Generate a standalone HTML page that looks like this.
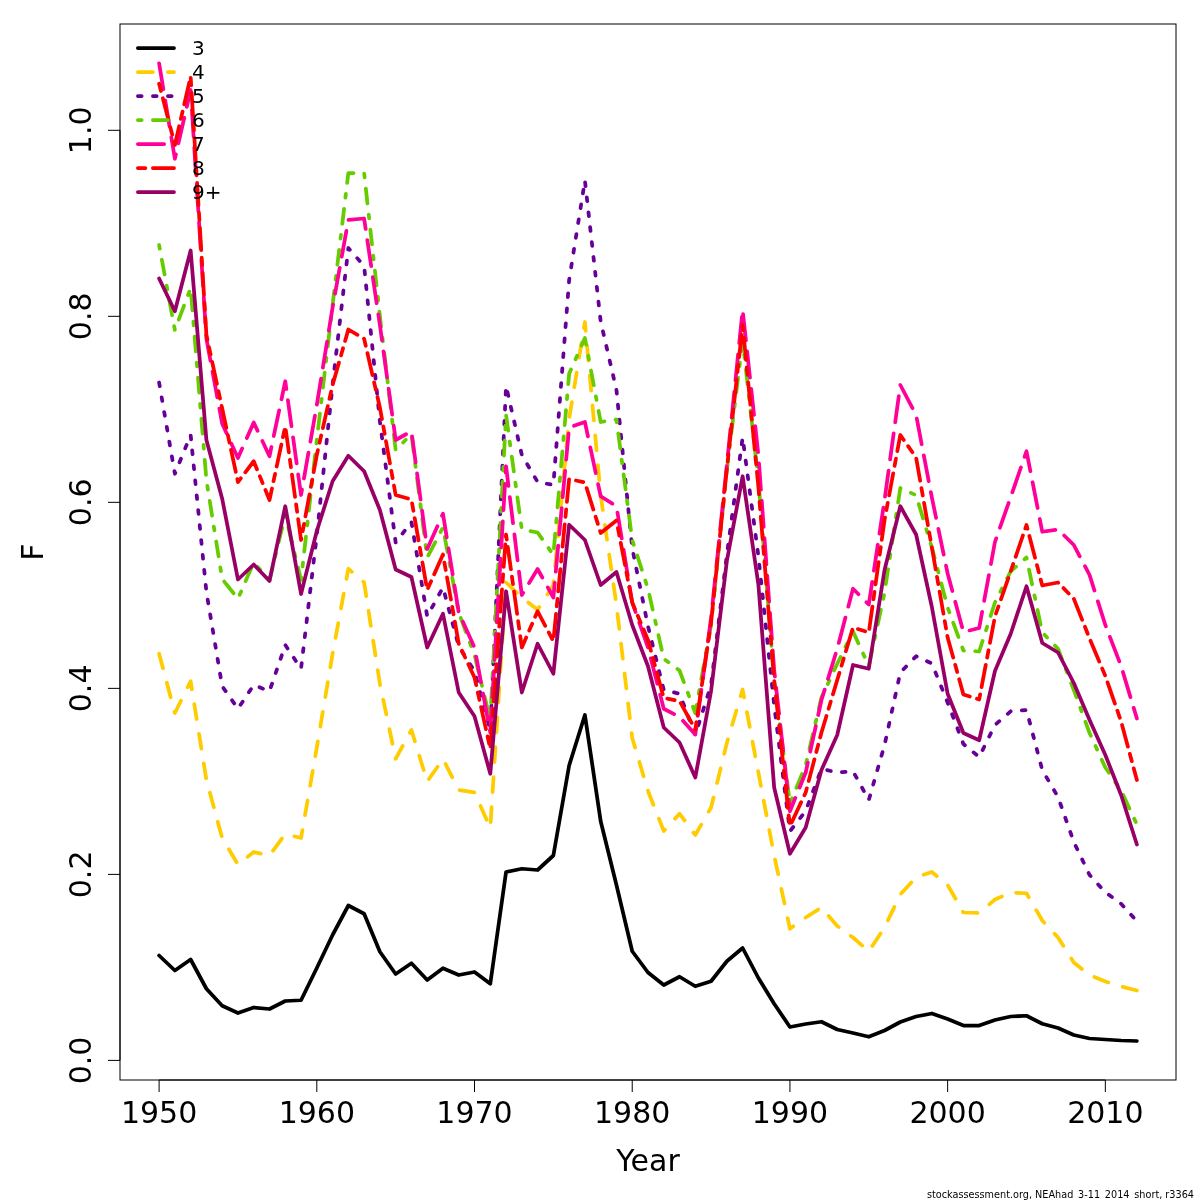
<!DOCTYPE html>
<html><head><meta charset="utf-8"><title>F by age</title>
<style>
html,body{margin:0;padding:0;background:#fff;}
svg{display:block;font-family:"DejaVu Sans","Liberation Sans",sans-serif;}
.ln{fill:none;stroke-width:3.75;stroke-linecap:round;stroke-linejoin:round;}
.ax{fill:none;stroke:#000;stroke-width:1;stroke-linecap:butt;}
</style></head><body>
<svg width="1200" height="1200" viewBox="0 0 1200 1200">
<rect width="1200" height="1200" fill="#fff"/>

<polyline class="ln" stroke="#000000" points="159.10,955.50 174.87,970.50 190.64,959.50 206.41,988.75 222.18,1005.75 237.95,1013.00 253.72,1007.50 269.49,1009.00 285.27,1001.00 301.04,1000.25 316.81,968.00 332.58,935.00 348.35,905.50 364.12,913.75 379.89,951.75 395.66,974.00 411.43,963.25 427.20,980.00 442.97,968.25 458.74,975.00 474.51,972.00 490.28,983.75 506.06,872.00 521.83,868.75 537.60,870.00 553.37,855.50 569.14,765.50 584.91,715.00 600.68,821.25 616.45,885.00 632.22,951.25 647.99,972.50 663.76,985.00 679.53,976.75 695.30,986.25 711.07,981.25 726.85,961.25 742.62,948.00 758.39,978.00 774.16,1003.75 789.93,1027.00 805.70,1024.00 821.47,1021.75 837.24,1029.50 853.01,1033.00 868.78,1036.75 884.55,1030.50 900.32,1022.00 916.09,1016.50 931.86,1013.50 947.63,1019.00 963.41,1025.50 979.18,1025.50 994.95,1020.00 1010.72,1016.50 1026.49,1015.75 1042.26,1023.75 1058.03,1028.00 1073.80,1035.00 1089.57,1038.50 1105.34,1039.50 1121.11,1040.50 1136.88,1041.00"/>
<polyline class="ln" stroke="#FFCC00" stroke-dasharray="15 15" points="159.10,653.75 174.87,713.00 190.64,681.25 206.41,780.00 222.18,838.00 237.95,864.50 253.72,852.00 269.49,855.50 285.27,834.00 301.04,838.00 316.81,747.50 332.58,653.75 348.35,568.75 364.12,582.50 379.89,683.75 395.66,758.75 411.43,730.00 427.20,781.50 442.97,759.00 458.74,790.00 474.51,792.50 490.28,828.00 506.06,582.50 521.83,597.50 537.60,609.75 553.37,585.00 569.14,418.75 584.91,322.00 600.68,495.50 616.45,605.00 632.22,738.00 647.99,791.00 663.76,831.00 679.53,813.75 695.30,835.00 711.07,807.50 726.85,743.00 742.62,689.50 758.39,772.50 774.16,855.50 789.93,928.75 805.70,917.50 821.47,907.50 837.24,926.00 853.01,937.50 868.78,951.25 884.55,927.50 900.32,894.50 916.09,877.25 931.86,872.00 947.63,885.00 963.41,912.50 979.18,913.00 994.95,899.50 1010.72,892.50 1026.49,893.25 1042.26,920.50 1058.03,937.50 1073.80,962.50 1089.57,975.00 1105.34,981.50 1121.11,986.50 1136.88,990.50"/>
<polyline class="ln" stroke="#660099" stroke-dasharray="3.75 11.25" points="159.10,382.50 174.87,473.75 190.64,435.00 206.41,592.00 222.18,686.25 237.95,708.75 253.72,685.00 269.49,691.25 285.27,645.00 301.04,668.75 316.81,535.00 332.58,385.00 348.35,248.00 364.12,266.00 379.89,421.25 395.66,542.50 411.43,522.00 427.20,616.25 442.97,587.50 458.74,646.25 474.51,671.25 490.28,730.00 506.06,386.00 521.83,455.00 537.60,482.00 553.37,485.00 569.14,280.00 584.91,180.50 600.68,321.50 616.45,390.00 632.22,548.00 647.99,626.25 663.76,690.00 679.53,693.75 695.30,735.00 711.07,685.00 726.85,555.00 742.62,437.50 758.39,556.00 774.16,705.00 789.93,831.25 805.70,811.00 821.47,768.75 837.24,772.50 853.01,771.25 868.78,800.00 884.55,745.00 900.32,672.50 916.09,656.25 931.86,663.50 947.63,702.50 963.41,744.00 979.18,757.00 994.95,725.00 1010.72,711.25 1026.49,710.00 1042.26,770.00 1058.03,797.00 1073.80,842.00 1089.57,875.00 1105.34,892.25 1121.11,903.75 1136.88,921.25"/>
<polyline class="ln" stroke="#66CC00" stroke-dasharray="3.75 11.25 15 11.25" points="159.10,245.00 174.87,330.00 190.64,288.00 206.41,480.00 222.18,579.00 237.95,598.75 253.72,562.50 269.49,580.00 285.27,515.00 301.04,580.00 316.81,440.00 332.58,305.00 348.35,173.00 364.12,173.00 379.89,316.00 395.66,450.00 411.43,434.00 427.20,557.50 442.97,527.50 458.74,612.50 474.51,655.00 490.28,720.00 506.06,415.00 521.83,529.50 537.60,532.50 553.37,555.00 569.14,373.75 584.91,338.00 600.68,422.00 616.45,419.50 632.22,540.00 647.99,588.75 663.76,658.75 679.53,670.50 695.30,713.00 711.07,625.00 726.85,470.00 742.62,340.00 758.39,480.00 774.16,680.00 789.93,803.75 805.70,765.00 821.47,697.50 837.24,663.75 853.01,631.50 868.78,666.00 884.55,592.50 900.32,488.00 916.09,495.25 931.86,547.50 947.63,607.50 963.41,650.50 979.18,651.50 994.95,602.50 1010.72,571.25 1026.49,557.50 1042.26,632.50 1058.03,648.75 1073.80,690.00 1089.57,733.00 1105.34,767.50 1121.11,790.50 1136.88,824.50"/>
<polyline class="ln" stroke="#FF0099" stroke-dasharray="26.25 11.25" points="159.10,63.30 174.87,158.75 190.64,90.00 206.41,338.75 222.18,423.75 237.95,458.00 253.72,422.50 269.49,456.25 285.27,381.25 301.04,495.00 316.81,405.00 332.58,307.50 348.35,220.00 364.12,218.50 379.89,325.00 395.66,440.00 411.43,431.25 427.20,549.00 442.97,513.75 458.74,612.50 474.51,647.50 490.28,732.50 506.06,466.25 521.83,595.00 537.60,569.00 553.37,597.50 569.14,427.50 584.91,422.00 600.68,496.25 616.45,506.25 632.22,602.50 647.99,647.50 663.76,708.75 679.53,717.00 695.30,734.60 711.07,618.00 726.85,465.00 742.62,310.00 758.39,455.00 774.16,670.00 789.93,811.25 805.70,772.50 821.47,700.00 837.24,648.75 853.01,588.75 868.78,604.50 884.55,500.00 900.32,385.00 916.09,415.00 931.86,497.50 947.63,573.50 963.41,632.00 979.18,628.00 994.95,542.00 1010.72,497.00 1026.49,451.25 1042.26,531.75 1058.03,529.50 1073.80,545.00 1089.57,575.00 1105.34,625.00 1121.11,666.00 1136.88,718.50"/>
<polyline class="ln" stroke="#FF0000" stroke-dasharray="7.5 7.5 22.5 7.5" points="159.10,83.75 174.87,145.00 190.64,76.50 206.41,335.00 222.18,408.50 237.95,482.00 253.72,461.25 269.49,500.00 285.27,426.25 301.04,540.00 316.81,455.00 332.58,385.00 348.35,329.50 364.12,338.75 379.89,407.50 395.66,495.00 411.43,499.50 427.20,590.00 442.97,554.50 458.74,643.75 474.51,677.50 490.28,748.75 506.06,534.50 521.83,647.50 537.60,611.25 553.37,641.25 569.14,479.00 584.91,482.50 600.68,533.00 616.45,520.50 632.22,602.50 647.99,640.00 663.76,698.00 679.53,701.00 695.30,729.50 711.07,622.50 726.85,469.00 742.62,325.00 758.39,487.00 774.16,680.00 789.93,826.25 805.70,792.50 821.47,732.50 837.24,680.00 853.01,627.50 868.78,632.50 884.55,520.00 900.32,435.00 916.09,457.50 931.86,547.50 947.63,637.50 963.41,694.50 979.18,699.50 994.95,616.50 1010.72,571.25 1026.49,525.00 1042.26,585.50 1058.03,582.50 1073.80,598.75 1089.57,638.50 1105.34,676.00 1121.11,721.50 1136.88,780.00"/>
<polyline class="ln" stroke="#990066" points="159.10,278.50 174.87,311.25 190.64,250.50 206.41,440.00 222.18,498.75 237.95,579.50 253.72,564.50 269.49,581.00 285.27,506.25 301.04,594.00 316.81,531.00 332.58,481.25 348.35,455.75 364.12,471.25 379.89,510.00 395.66,569.50 411.43,577.00 427.20,647.50 442.97,613.75 458.74,692.50 474.51,716.25 490.28,773.75 506.06,591.25 521.83,692.50 537.60,643.75 553.37,673.75 569.14,524.75 584.91,540.00 600.68,585.00 616.45,572.00 632.22,625.00 647.99,666.25 663.76,727.50 679.53,742.50 695.30,777.50 711.07,691.00 726.85,561.00 742.62,476.25 758.39,584.50 774.16,787.50 789.93,853.75 805.70,827.50 821.47,770.00 837.24,735.00 853.01,665.00 868.78,668.75 884.55,570.00 900.32,506.25 916.09,534.50 931.86,607.00 947.63,693.75 963.41,733.00 979.18,740.25 994.95,671.00 1010.72,633.75 1026.49,586.25 1042.26,643.00 1058.03,652.50 1073.80,683.00 1089.57,720.00 1105.34,755.00 1121.11,795.00 1136.88,844.50"/>
<rect class="ax" x="120" y="24" width="1056" height="1056"/>
<path class="ax" d="M159.10,1080H1105.34M159.10,1080v12M316.81,1080v12M474.51,1080v12M632.22,1080v12M789.93,1080v12M947.63,1080v12M1105.34,1080v12"/>
<text x="159.10" y="1122.75" font-size="30" text-anchor="middle">1950</text>
<text x="316.81" y="1122.75" font-size="30" text-anchor="middle">1960</text>
<text x="474.51" y="1122.75" font-size="30" text-anchor="middle">1970</text>
<text x="632.22" y="1122.75" font-size="30" text-anchor="middle">1980</text>
<text x="789.93" y="1122.75" font-size="30" text-anchor="middle">1990</text>
<text x="947.63" y="1122.75" font-size="30" text-anchor="middle">2000</text>
<text x="1105.34" y="1122.75" font-size="30" text-anchor="middle">2010</text>
<path class="ax" d="M120,1060.40V130.30M120,1060.40h-12M120,874.38h-12M120,688.36h-12M120,502.34h-12M120,316.32h-12M120,130.30h-12"/>
<text transform="translate(91,1060.40) rotate(-90)" font-size="30" text-anchor="middle">0.0</text>
<text transform="translate(91,874.38) rotate(-90)" font-size="30" text-anchor="middle">0.2</text>
<text transform="translate(91,688.36) rotate(-90)" font-size="30" text-anchor="middle">0.4</text>
<text transform="translate(91,502.34) rotate(-90)" font-size="30" text-anchor="middle">0.6</text>
<text transform="translate(91,316.32) rotate(-90)" font-size="30" text-anchor="middle">0.8</text>
<text transform="translate(91,130.30) rotate(-90)" font-size="30" text-anchor="middle">1.0</text>
<text x="648" y="1171" font-size="30" text-anchor="middle">Year</text>
<text transform="translate(43,552) rotate(-90)" font-size="30" text-anchor="middle">F</text>
<line class="ln" stroke="#000000" x1="137.9" y1="48.00" x2="174" y2="48.00"/>
<text x="192" y="54.50" font-size="20">3</text>
<line class="ln" stroke="#FFCC00" stroke-dasharray="15 15" x1="137.9" y1="72.00" x2="174" y2="72.00"/>
<text x="192" y="78.50" font-size="20">4</text>
<line class="ln" stroke="#660099" stroke-dasharray="3.75 11.25" x1="137.9" y1="96.00" x2="174" y2="96.00"/>
<text x="192" y="102.50" font-size="20">5</text>
<line class="ln" stroke="#66CC00" stroke-dasharray="3.75 11.25 15 11.25" x1="137.9" y1="120.00" x2="174" y2="120.00"/>
<text x="192" y="126.50" font-size="20">6</text>
<line class="ln" stroke="#FF0099" stroke-dasharray="26.25 11.25" x1="137.9" y1="144.00" x2="174" y2="144.00"/>
<text x="192" y="150.50" font-size="20">7</text>
<line class="ln" stroke="#FF0000" stroke-dasharray="7.5 7.5 22.5 7.5" x1="137.9" y1="168.00" x2="174" y2="168.00"/>
<text x="192" y="174.50" font-size="20">8</text>
<line class="ln" stroke="#990066" x1="137.9" y1="192.00" x2="174" y2="192.00"/>
<text x="192" y="198.50" font-size="20">9+</text>
<text x="1194" y="1198" font-size="9.7" text-anchor="end">stockassessment.org, NEAhad<tspan dx="1.7"> 3-11</tspan><tspan dx="1.7"> 2014</tspan><tspan dx="1.7"> short, r3364</tspan></text>
</svg></body></html>
